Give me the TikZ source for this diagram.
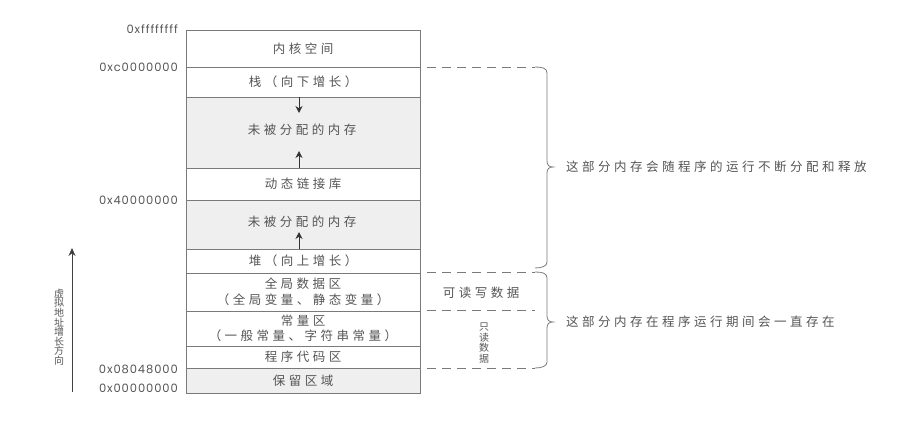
\documentclass[tikz,border=0pt]{standalone}
\usepackage{fontspec}
\usetikzlibrary{arrows.meta}
\newfontfamily\cjk[LetterSpace=28]{Noto Sans CJK SC}
\newfontfamily\cjkv{Noto Sans CJK SC}
\newfontfamily\hexfont[LetterSpace=8]{Poppins}
\definecolor{linegray}{HTML}{7A7A7A}
\definecolor{textgray}{HTML}{555555}
\definecolor{freefill}{HTML}{EFEFEF}
\begin{document}
\begin{tikzpicture}[x=1pt,y=-1pt,
  region/.style={draw=linegray, line width=0.8pt, minimum width=234pt,
    inner sep=0pt, outer sep=0pt, text=textgray, align=center,
    font=\cjk\fontsize{12.5}{15.5}\selectfont},
  freearea/.style={fill=freefill},
  label/.style={text=textgray, inner sep=0pt, font=\cjk\fontsize{12.5}{15.5}\selectfont, align=center},
  hexlabel/.style={text=textgray, inner sep=0pt, anchor=east, font=\hexfont\fontsize{11.5}{12}\selectfont},
  growarrow/.style={draw=black!80, line width=1pt, -{Stealth[length=7pt,width=7pt]}},
  sep/.style={draw=linegray, line width=0.8pt, dash pattern=on 9pt off 6pt},
  brace/.style={draw=linegray, line width=0.8pt}
]
\useasboundingbox (0,0) rectangle (912,437);

% address space, top to bottom
\node[region, minimum height=37pt] (kernel) at (303,48.5) {内核空间};
\node[region, minimum height=30pt] (stack) at (303,82) {栈（向下增长）};
\node[region, freearea, minimum height=71pt] (free1) at (303,132.5) {};
\node[label] (free1txt) at (302,130) {未被分配的内存};
\node[region, minimum height=32pt] (dyn) at (303,184) {动态链接库};
\node[region, freearea, minimum height=49pt] (free2) at (303,224.5) {};
\node[label] (free2txt) at (302,222) {未被分配的内存};
\node[region, minimum height=24pt] (heap) at (303,261) {堆（向上增长）};
\node[region, minimum height=38pt] (global) at (303,292) {全局数据区\\（全局变量、静态变量）};
\node[region, minimum height=35pt] (const) at (303,328.5) {常量区\\（一般常量、字符串常量）};
\node[region, minimum height=22pt] (code) at (303,357) {程序代码区};
\node[region, freearea, minimum height=25pt] (reserved) at (303,380.5) {保留区域};

% growth directions of stack and heap
\coordinate (stackend) at (299,113);
\draw[growarrow] ([xshift=-4pt]stack.south) -- (stackend);
\coordinate (dynend) at (299,151);
\draw[growarrow] ([xshift=-4pt]dyn.north) -- (dynend);
\coordinate (heapend) at (299,232);
\draw[growarrow] ([xshift=-4pt]heap.north) -- (heapend);

% addresses
\node[hexlabel] (a1) at (178,29) {0xffffffff};
\node[hexlabel] (a2) at (178,67) {0xc0000000};
\node[hexlabel] (a3) at (178,200) {0x40000000};
\node[hexlabel] (a4) at (178,369) {0x08048000};
\node[hexlabel] (a5) at (178,388) {0x00000000};

% direction of growing addresses
\coordinate (vlow) at (72,392);
\coordinate (vhigh) at (72,248);
\draw[draw=black!75, line width=0.9pt, -{Stealth[length=8pt,width=7pt]}] (vlow) -- (vhigh);
\node[text=textgray, inner sep=0pt, align=center, font=\cjkv\fontsize{10}{9.6}\selectfont] (vdir) at (59,327)
  {虚\\拟\\地\\址\\增\\长\\方\\向};

% dynamic part
\coordinate (d1a) at (427,67);
\coordinate (d1b) at (535,67);
\draw[sep] (d1a) -- (d1b);
\draw[brace] (d1b) .. controls (542,67) and (547,68) .. (547,73) -- (547,161)
  .. controls (547,165) and (549,167) .. (553,167)
  .. controls (549,167) and (547,169) .. (547,173) -- (547,262)
  .. controls (547,266) and (542,268) .. (535,268);
\node[label, anchor=west] (dyntext) at (566,167) {这部分内存会随程序的运行不断分配和释放};

% static part
\coordinate (s1a) at (427,272);
\coordinate (s1b) at (535,272);
\coordinate (s2a) at (427,310);
\coordinate (s2b) at (535,310);
\coordinate (s3a) at (427,368);
\coordinate (s3b) at (535,368);
\draw[sep] (s1a) -- (s1b);
\draw[sep] (s2a) -- (s2b);
\draw[sep] (s3a) -- (s3b);
\node[label] (rw) at (481,293) {可读写数据};
\node[text=textgray, inner sep=0pt, align=center, font=\cjkv\fontsize{10}{10.8}\selectfont] (ro) at (484,343)
  {只\\读\\数\\据};
\draw[brace] (s1b) .. controls (542,272) and (547,273) .. (547,278) -- (547,316)
  .. controls (547,320) and (549,322) .. (553,322)
  .. controls (549,322) and (547,324) .. (547,328) -- (547,362)
  .. controls (547,366) and (542,368) .. (s3b);
\node[label, anchor=west] (sttext) at (566,322) {这部分内存在程序运行期间会一直存在};
\end{tikzpicture}
\end{document}
